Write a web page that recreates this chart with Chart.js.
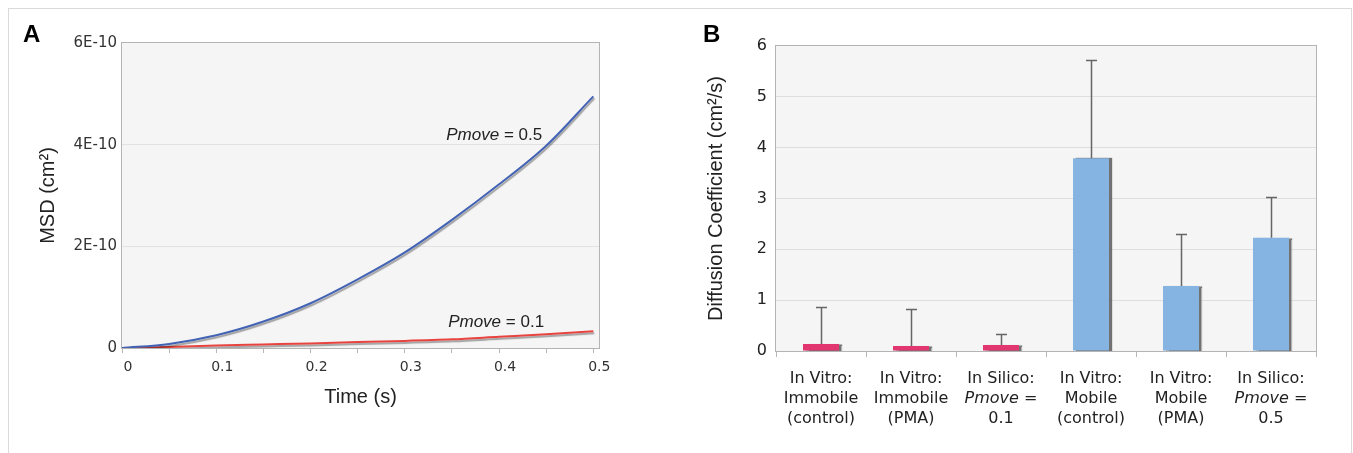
<!DOCTYPE html>
<html>
<head>
<meta charset="utf-8">
<script src="https://cdn.jsdelivr.net/npm/chart.js@4.4.1/dist/chart.umd.min.js"></script>
<style>
  html, body { margin: 0; padding: 0; background: #fff; }
  body { width: 1353px; height: 453px; position: relative; overflow: hidden; }
  .frame { position: absolute; left: 8px; top: 8px; width: 1342px; height: 470px; border: 1px solid #dadada; }
  .panel { position: absolute; top: 0; }
  #chartA { left: 0; }
  #chartB { left: 670px; }
  .tag { position: absolute; top: 22px; font: bold 24px "Liberation Sans", Arial, sans-serif; line-height: 24px; color: #000; }
</style>
</head>
<body>
<div class="frame"></div>
<canvas id="chartA" class="panel" width="670" height="453"></canvas>
<canvas id="chartB" class="panel" width="683" height="453"></canvas>
<div class="tag" style="left:23px">A</div>
<div class="tag" style="left:703px">B</div>

<script>
// Panel A: MSD over time, values in units of 1E-10 cm^2
const timeA = [0, 0.05, 0.1, 0.15, 0.2, 0.25, 0.3, 0.35, 0.4, 0.45, 0.5];
const msdMove05 = [0, 0.08, 0.25, 0.52, 0.88, 1.35, 1.88, 2.52, 3.22, 3.98, 4.95];
const msdMove01 = [0, 0.02, 0.05, 0.07, 0.09, 0.12, 0.14, 0.17, 0.22, 0.27, 0.33];
const msdTicks = [0, 2, 4, 6];
const timeTicks = [0, 0.05, 0.1, 0.15, 0.2, 0.25, 0.3, 0.35, 0.4, 0.45, 0.5];

// Panel B: diffusion coefficients (cm^2/s) with upper SD
const categoriesB = [
  ["In Vitro:", "Immobile", "(control)"],
  ["In Vitro:", "Immobile", "(PMA)"],
  ["In Silico:", "Pmove =", "0.1"],
  ["In Vitro:", "Mobile", "(control)"],
  ["In Vitro:", "Mobile", "(PMA)"],
  ["In Silico:", "Pmove =", "0.5"]
];
const diffusionMean = [0.14, 0.10, 0.12, 3.79, 1.28, 2.23];
const diffusionSd = [0.73, 0.73, 0.22, 1.93, 1.03, 0.79];
const diffusionTicks = [0, 1, 2, 3, 4, 5, 6];

const TITLE_FONT = { family: "Liberation Sans", size: 20, lineHeight: 1.2 };

// "Pmove" is set in italics, the rest upright
function drawPmove(ctx, text, x, y, size, family, align) {
  const parts = text.startsWith("Pmove")
    ? [["Pmove", "italic "], [text.slice(5), ""]]
    : [[text, ""]];
  const widths = parts.map(([t, style]) => {
    ctx.font = `${style}${size}px "${family}"`;
    return ctx.measureText(t).width;
  });
  const total = widths.reduce((a, b) => a + b, 0);
  let cx = align === "center" ? x - total / 2 : x;
  ctx.textAlign = "left";
  ctx.textBaseline = "alphabetic";
  parts.forEach(([t, style], i) => {
    ctx.font = `${style}${size}px "${family}"`;
    ctx.fillText(t, cx, y);
    cx += widths[i];
  });
}

const plotFrame = {
  id: "plotFrame",
  beforeDraw(chart) {
    const { ctx, chartArea: a } = chart;
    ctx.save();
    ctx.fillStyle = "#f5f5f5";
    ctx.fillRect(a.left, a.top, a.right - a.left, a.bottom - a.top);
    ctx.restore();
  },
  beforeDatasetsDraw(chart) {
    const { ctx, chartArea: a } = chart;
    ctx.save();
    ctx.strokeStyle = "#b4b4b4";
    ctx.lineWidth = 1;
    ctx.strokeRect(Math.round(a.left) - 0.5, Math.round(a.top) - 0.5,
      Math.round(a.right - a.left) + 1, Math.round(a.bottom - a.top) + 1);
    ctx.restore();
  }
};

const dropShadow = {
  id: "dropShadow",
  beforeDatasetDraw(chart, args, opts) {
    const ctx = chart.ctx;
    ctx.save();
    ctx.shadowColor = opts.color;
    ctx.shadowOffsetX = opts.x;
    ctx.shadowOffsetY = opts.y;
    ctx.shadowBlur = opts.blur;
  },
  afterDatasetDraw(chart) {
    chart.ctx.restore();
  }
};

const curveNotes = {
  id: "curveNotes",
  afterDraw(chart) {
    const { ctx, scales: { x, y } } = chart;
    ctx.save();
    ctx.fillStyle = "#222";
    drawPmove(ctx, "Pmove = 0.5", x.getPixelForValue(0.344), y.getPixelForValue(4.1), 17, "Liberation Sans", "left");
    drawPmove(ctx, "Pmove = 0.1", x.getPixelForValue(0.346), y.getPixelForValue(0.42), 17, "Liberation Sans", "left");
    ctx.restore();
  }
};

const errorBars = {
  id: "errorBars",
  afterDatasetsDraw(chart) {
    const { ctx, scales: { x, y } } = chart;
    ctx.save();
    ctx.strokeStyle = "#666";
    ctx.lineWidth = 1.5;
    diffusionMean.forEach((v, i) => {
      const px = Math.round(x.getPixelForValue(i)) + 0.5;
      const base = y.getPixelForValue(v);
      const top = Math.round(y.getPixelForValue(v + diffusionSd[i])) + 0.5;
      ctx.beginPath();
      ctx.moveTo(px, base);
      ctx.lineTo(px, top);
      ctx.moveTo(px - 5.5, top);
      ctx.lineTo(px + 5.5, top);
      ctx.stroke();
    });
    ctx.restore();
  }
};

const categoryLabels = {
  id: "categoryLabels",
  afterDraw(chart) {
    const { ctx, chartArea, scales: { x } } = chart;
    ctx.save();
    ctx.fillStyle = "#222";
    categoriesB.forEach((lines, i) => {
      const cx = x.getPixelForValue(i);
      lines.forEach((line, j) => {
        drawPmove(ctx, line, cx, chartArea.bottom + 32 + j * 20, 16, "DejaVu Sans", "center");
      });
    });
    ctx.restore();
  }
};

new Chart(document.getElementById("chartA"), {
  type: "line",
  data: {
    datasets: [
      {
        data: timeA.map((t, i) => ({ x: t, y: msdMove05[i] })),
        borderColor: "#4262b4",
        borderWidth: 2,
        pointRadius: 0,
        cubicInterpolationMode: "monotone",
        order: 0
      },
      {
        data: timeA.map((t, i) => ({ x: t, y: msdMove01[i] })),
        borderColor: "#e8433f",
        borderWidth: 2,
        pointRadius: 0,
        cubicInterpolationMode: "monotone",
        order: 1
      }
    ]
  },
  options: {
    responsive: false,
    animation: false,
    layout: { padding: { top: 43, right: 71, bottom: 0, left: 0 } },
    plugins: {
      legend: { display: false },
      tooltip: { enabled: false },
      dropShadow: { color: "rgba(0,0,0,0.35)", x: 1, y: 2, blur: 1 }
    },
    scales: {
      x: {
        type: "linear",
        min: 0,
        max: 0.506,
        afterBuildTicks: s => { s.ticks = timeTicks.map(v => ({ value: v })); },
        afterFit: s => { s.height = 105; },
        ticks: {
          autoSkip: false,
          maxRotation: 0,
          padding: 6,
          labelOffset: 6,
          color: "#333",
          font: { family: "DejaVu Sans", size: 14 },
          callback: v => (Math.round(v * 100) % 10 === 0 ? String(Math.round(v * 10) / 10) : "")
        },
        grid: { drawOnChartArea: false, tickLength: 5, color: "#b8b8b8" },
        border: { display: false },
        title: { display: true, text: "Time (s)", color: "#222", font: TITLE_FONT, padding: { top: 0, bottom: 44 } }
      },
      y: {
        min: 0,
        max: 6,
        afterBuildTicks: s => { s.ticks = msdTicks.map(v => ({ value: v })); },
        afterFit: s => { s.width = 122; },
        ticks: {
          padding: 5,
          color: "#333",
          font: { family: "DejaVu Sans", size: 15 },
          callback: v => (v === 0 ? "0" : v + "E-10")
        },
        grid: {
          drawTicks: false,
          color: c => (c.tick && (c.tick.value === 0 || c.tick.value === 6) ? "rgba(0,0,0,0)" : "#e2e2e2")
        },
        border: { display: false },
        title: { display: true, text: "MSD (cm²)", color: "#222", font: TITLE_FONT, padding: { top: 36, bottom: 0 } }
      }
    }
  },
  plugins: [plotFrame, dropShadow, curveNotes]
});

new Chart(document.getElementById("chartB"), {
  type: "bar",
  data: {
    labels: categoriesB,
    datasets: [{
      data: diffusionMean,
      backgroundColor: c => (c.dataIndex < 3 ? "#e23670" : "#85b4e2"),
      borderWidth: 0,
      barPercentage: 0.4,
      categoryPercentage: 1
    }]
  },
  options: {
    responsive: false,
    animation: false,
    layout: { padding: { top: 46, right: 37, bottom: 0, left: 0 } },
    plugins: {
      legend: { display: false },
      tooltip: { enabled: false },
      dropShadow: { color: "rgba(90,90,90,0.85)", x: 3, y: 0, blur: 1 }
    },
    scales: {
      x: {
        afterFit: s => { s.height = 102; },
        ticks: { display: false },
        grid: { drawOnChartArea: false, offset: true, tickLength: 6, color: "#b8b8b8" },
        border: { display: false }
      },
      y: {
        min: 0,
        max: 6,
        afterBuildTicks: s => { s.ticks = diffusionTicks.map(v => ({ value: v })); },
        afterFit: s => { s.width = 106; },
        ticks: {
          padding: 9,
          color: "#222",
          font: { family: "DejaVu Sans", size: 16 }
        },
        grid: {
          drawTicks: false,
          color: c => (c.tick && (c.tick.value === 0 || c.tick.value === 6) ? "rgba(0,0,0,0)" : "#dedede")
        },
        border: { display: false },
        title: { display: true, text: "Diffusion Coefficient (cm²/s)", color: "#222", font: TITLE_FONT, padding: { top: 34, bottom: 0 } }
      }
    }
  },
  plugins: [plotFrame, dropShadow, errorBars, categoryLabels]
});
</script>
</body>
</html>
